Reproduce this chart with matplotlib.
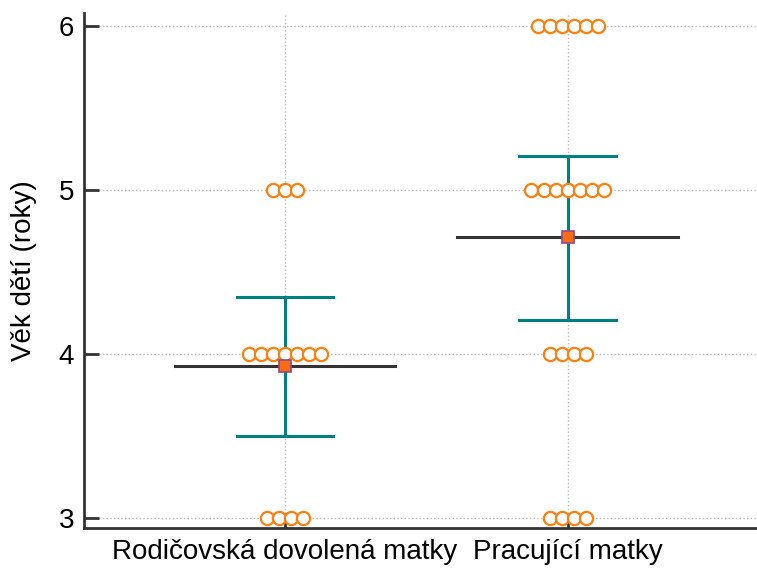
import numpy as np
import matplotlib.pyplot as plt

plt.rcParams['font.family'] = ['Liberation Sans', 'DejaVu Sans']

groups = ['Rodičovská dovolená matky', 'Pracující matky']
# vek deti v kazde skupine (roky)
vek_dovolena = [5, 5, 5, 4, 4, 4, 4, 4, 4, 4, 3, 3, 3, 3]
vek_pracujici = [6, 6, 6, 6, 6, 6, 5, 5, 5, 5, 5, 5, 5, 4, 4, 4, 4, 3, 3, 3, 3]
ci_low = [3.50, 4.21]
ci_high = [4.35, 5.21]

data = [vek_dovolena, vek_pracujici]
means = [np.mean(d) for d in data]

fig, ax = plt.subplots(figsize=(7.57, 5.70), dpi=100)
fig.subplots_adjust(left=0.111, right=1.0, bottom=0.074, top=0.977)

step = 0.0425  # rozestup kolecek
for i, d in enumerate(data):
    vals, counts = np.unique(d, return_counts=True)
    for v, c in zip(vals, counts):
        xs = i + (np.arange(c) - (c - 1) / 2) * step
        ax.plot(xs, [v] * c, 'o', ms=9.5, mfc='white', mec='#ff7f0e', mew=1.6,
                zorder=3, clip_on=False)
    ax.plot([i - 0.39, i + 0.39], [means[i]] * 2, color='#333333', lw=2.2, zorder=4)
    ax.plot([i, i], [ci_low[i], ci_high[i]], color='#008080', lw=2.2, zorder=2)
    for y in (ci_low[i], ci_high[i]):
        ax.plot([i - 0.17, i + 0.17], [y, y], color='#008080', lw=2.2, zorder=2)
    ax.plot(i, means[i], 's', ms=8, mfc='#ff6a13', mec='#8e4a8e', mew=1.2, zorder=5)

ax.set_xlim(-0.71, 1.67)
ax.set_ylim(2.94, 6.08)
ax.set_xticks([0, 1])
ax.set_xticklabels(groups)
ax.set_yticks([3, 4, 5, 6])
ax.set_ylabel('Věk dětí (roky)', fontsize=20, labelpad=16)
ax.grid(True, linestyle=':', color='#bbbbbb', lw=1)
ax.set_axisbelow(True)

ax.tick_params(axis='both', direction='in', length=11, width=2, color='#333333',
               labelsize=20, labelcolor='black')
ax.tick_params(axis='x', pad=8)
ax.tick_params(axis='y', pad=7)
for s in ['top', 'right']:
    ax.spines[s].set_visible(False)
for s in ['left', 'bottom']:
    ax.spines[s].set_color('#333333')
    ax.spines[s].set_linewidth(2)

plt.savefig('out.png')
